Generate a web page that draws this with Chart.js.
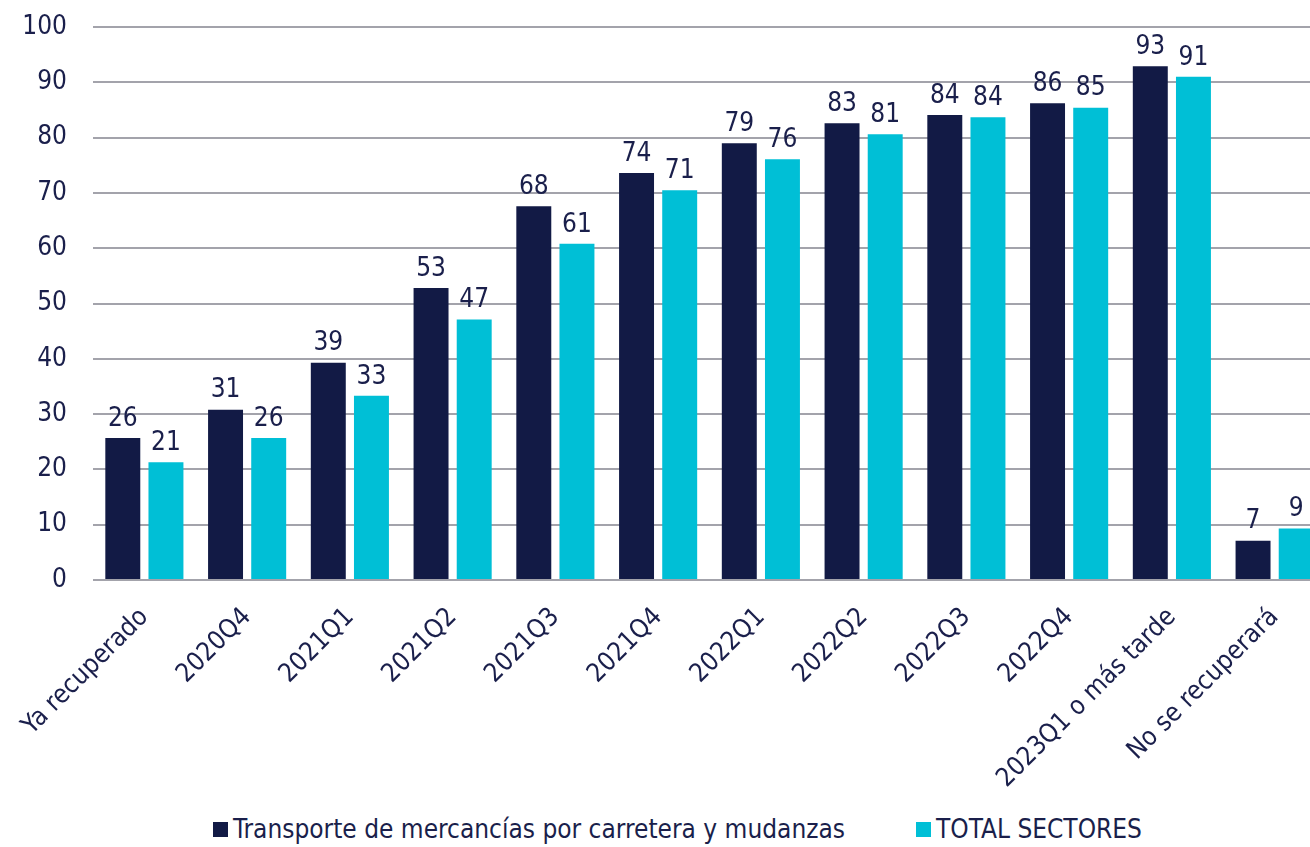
<!DOCTYPE html>
<html lang="es">
<head>
<meta charset="utf-8">
<title>Recuperación por trimestre</title>
<script src="https://cdn.jsdelivr.net/npm/chart.js@4.4.1/dist/chart.umd.min.js"></script>
<style>
  html, body { margin: 0; padding: 0; background: #fff; overflow: hidden; }
  #wrap { position: absolute; left: 0; top: 0; width: 1326px; height: 800px; }
  .legend { position: absolute; top: 812px; left: 0; width: 1310px; height: 35px;
            font-family: "DejaVu Sans Condensed", "DejaVu Sans", sans-serif; font-size: 26px; color: #1a1f4b; }
  .legend .item { position: absolute; top: 2px; display: flex; align-items: center; white-space: nowrap; }
  .legend .box { width: 15px; height: 15px; margin-right: 5px; }
</style>
</head>
<body>
<div id="wrap"><canvas id="chart"></canvas></div>
<div class="legend" id="legend"></div>

<script>
/* ---------- DATA ---------- */
const categories = ['Ya recuperado', '2020Q4', '2021Q1', '2021Q2', '2021Q3', '2021Q4',
  '2022Q1', '2022Q2', '2022Q3', '2022Q4', '2023Q1 o más tarde', 'No se recuperará'];
const transporte = [25.7, 30.8, 39.3, 52.8, 67.6, 73.6, 79.0, 82.6, 84.1, 86.2, 92.9, 7.1];
const totalSectores = [21.3, 25.7, 33.3, 47.1, 60.8, 70.5, 76.1, 80.6, 83.7, 85.4, 91.0, 9.3];
const seriesNames = ['Transporte de mercancías por carretera y mudanzas', 'TOTAL SECTORES'];
const yTicks = [0, 10, 20, 30, 40, 50, 60, 70, 80, 90, 100];

const NAVY = '#121a45';
const CYAN = '#00bfd6';
const TEXT = '#1a1f4b';
const FONT = '"DejaVu Sans Condensed", "DejaVu Sans", sans-serif';

/* ---------- VALUE LABELS ---------- */
const valueLabels = {
  id: 'valueLabels',
  afterDatasetsDraw(chart) {
    const ctx = chart.ctx;
    ctx.save();
    ctx.font = '26px ' + FONT;
    ctx.fillStyle = TEXT;
    ctx.textAlign = 'center';
    ctx.textBaseline = 'bottom';
    chart.data.datasets.forEach((ds, i) => {
      chart.getDatasetMeta(i).data.forEach((bar, j) => {
        ctx.fillText(Math.round(ds.data[j]), bar.x, bar.y - 6);
      });
    });
    ctx.restore();
  }
};

/* ---------- CHART ---------- */
const ctx = document.getElementById('chart').getContext('2d');
new Chart(ctx, {
  type: 'bar',
  data: {
    labels: categories,
    datasets: [
      { label: seriesNames[0], data: transporte, backgroundColor: NAVY },
      { label: seriesNames[1], data: totalSectores, backgroundColor: CYAN }
    ]
  },
  options: {
    responsive: true,
    maintainAspectRatio: false,
    animation: false,
    datasets: { bar: { categoryPercentage: 0.84, barPercentage: 0.81 } },
    layout: { padding: { top: 27, right: 0, bottom: 0, left: 0 } },
    plugins: { legend: { display: false }, tooltip: { enabled: false } },
    scales: {
      x: {
        grid: { display: false },
        border: { display: false },
        ticks: {
          color: TEXT, font: { family: FONT, size: 26 },
          minRotation: 45, maxRotation: 45, padding: 14, autoSkip: false
        },
        afterFit(scale) { scale.height = 220; }
      },
      y: {
        min: 0, max: 100,
        afterBuildTicks(scale) { scale.ticks = yTicks.map(v => ({ value: v })); },
        grid: { color: '#a3a3ab', lineWidth: 2, drawTicks: false },
        border: { display: false },
        ticks: { color: TEXT, font: { family: FONT, size: 26 }, padding: 26 },
        afterFit(scale) {
          scale.width = 93;
          scale.paddingTop = 0;
          scale.paddingBottom = 0;
        }
      }
    }
  },
  plugins: [valueLabels]
});

/* ---------- LEGEND ---------- */
const legend = document.getElementById('legend');
[[213, NAVY, seriesNames[0]], [916, CYAN, seriesNames[1]]].forEach(([x, color, name]) => {
  const item = document.createElement('div');
  item.className = 'item';
  item.style.left = x + 'px';
  item.innerHTML = `<span class="box" style="background:${color}"></span><span>${name}</span>`;
  legend.appendChild(item);
});
</script>
</body>
</html>
